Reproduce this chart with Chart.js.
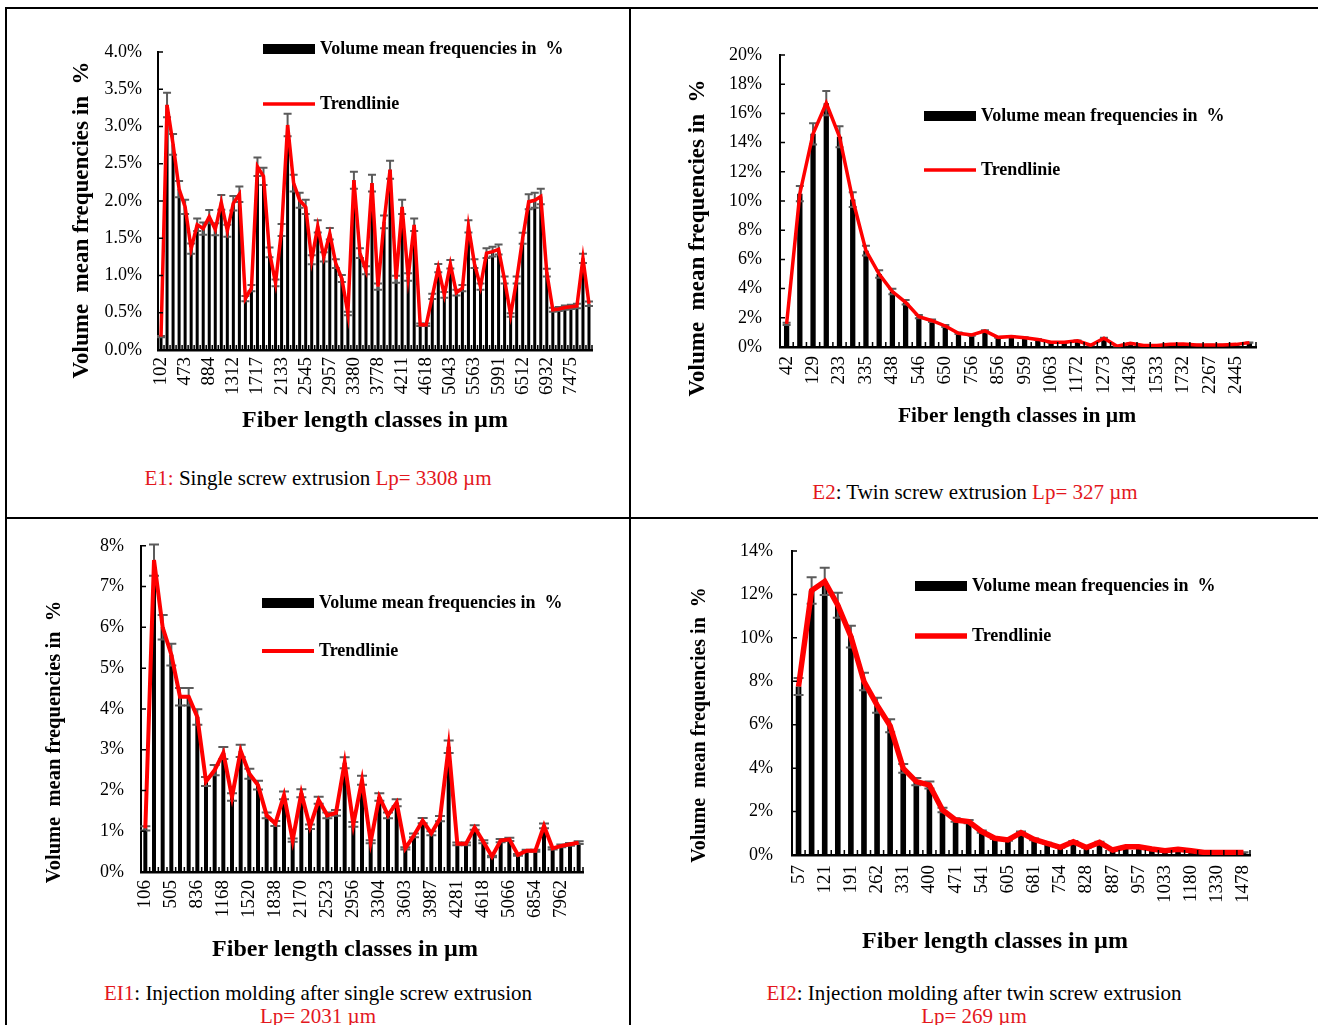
<!DOCTYPE html>
<html>
<head>
<meta charset="utf-8">
<script src="https://cdn.jsdelivr.net/npm/chart.js@4.4.1/dist/chart.umd.min.js"></script>
<style>
  html, body { margin: 0; padding: 0; background: #fff; }
  body { width: 1318px; height: 1025px; position: relative; overflow: hidden;
         font-family: "Liberation Serif", "Times New Roman", serif; }
  .box { position: absolute; }
  .rule { position: absolute; background: #000; }
  .cap { position: absolute; font-size: 21px; color: #000; white-space: nowrap;
         transform: translate(-50%, -50%); line-height: 23px; }
  .red { color: #e3171d; }
</style>
</head>
<body>

<div class="rule" style="left:5px;top:7px;width:1313px;height:2px"></div>
<div class="rule" style="left:5px;top:7px;width:2px;height:1018px"></div>
<div class="rule" style="left:629px;top:7px;width:2px;height:1018px"></div>
<div class="rule" style="left:5px;top:517px;width:1313px;height:2px"></div>

<div class="box" style="left:6px;top:8px"><canvas id="c1" width="624" height="440"></canvas></div>
<div class="box" style="left:630px;top:8px"><canvas id="c2" width="688" height="440"></canvas></div>
<div class="box" style="left:6px;top:518px"><canvas id="c3" width="624" height="460"></canvas></div>
<div class="box" style="left:630px;top:518px"><canvas id="c4" width="688" height="460"></canvas></div>

<div class="cap" style="left:318px;top:478px"><span class="red">E1:</span> Single screw extrusion <span class="red">Lp= 3308 µm</span></div>
<div class="cap" style="left:975px;top:492px"><span class="red">E2</span>: Twin screw extrusion <span class="red">Lp= 327 µm</span></div>
<div class="cap" style="left:318px;top:993px"><span class="red">EI1</span>: Injection molding after single screw extrusion</div>
<div class="cap red" style="left:318px;top:1016px">Lp= 2031 µm</div>
<div class="cap" style="left:974px;top:993px"><span class="red">EI2</span>: Injection molding after twin screw extrusion</div>
<div class="cap red" style="left:974px;top:1016px">Lp= 269 µm</div>

<script>
// E1: single screw extrusion (every 4th class is labelled)
const e1Ticks = ['102', '473', '884', '1312', '1717', '2133', '2545', '2957', '3380',
  '3778', '4211', '4618', '5043', '5563', '5991', '6512', '6932', '7475'];
const e1Values = [0.18, 3.29, 2.76, 2.16, 1.92, 1.36, 1.68, 1.63, 1.79, 1.62, 1.98, 1.60,
  1.97, 2.09, 0.69, 0.83, 2.46, 2.33, 1.31, 0.90, 1.61, 3.02, 2.24, 2.01, 1.92, 1.21,
  1.66, 1.25, 1.56, 1.16, 0.96, 0.49, 2.28, 1.30, 1.07, 2.24, 0.85, 1.72, 2.42, 0.95,
  1.92, 0.98, 1.68, 0.34, 0.34, 0.72, 1.10, 0.74, 1.15, 0.77, 0.83, 1.66, 1.16, 0.85,
  1.30, 1.32, 1.35, 0.94, 0.47, 0.94, 1.50, 1.99, 2.01, 2.06, 1.04, 0.54, 0.55, 0.57,
  0.58, 0.59, 1.23, 0.62];

// E2: twin screw extrusion (every 2nd class labelled)
const e2Ticks = ['42', '129', '233', '335', '438', '546', '650', '756', '856', '959',
  '1063', '1172', '1273', '1436', '1533', '1732', '2267', '2445'];
const e2Values = [1.58, 10.5, 14.6, 16.7, 14.4, 10.1, 6.6, 5.0, 3.8, 3.06, 2.08, 1.8,
  1.44, 0.94, 0.82, 1.1, 0.66, 0.72, 0.64, 0.52, 0.32, 0.32, 0.43, 0.12, 0.6, 0.05,
  0.25, 0.1, 0.1, 0.18, 0.2, 0.14, 0.14, 0.14, 0.18, 0.3];

// EI1: injection molding after single screw extrusion (every 3rd class labelled)
const e3Ticks = ['106', '505', '836', '1168', '1520', '1838', '2170', '2523', '2956',
  '3304', '3603', '3987', '4281', '4618', '5066', '6854', '7962'];
const e3Values = [1.07, 7.65, 6.0, 5.33, 4.3, 4.3, 3.8, 2.22, 2.5, 2.92, 1.84, 2.97,
  2.41, 2.13, 1.39, 1.19, 1.88, 0.78, 1.93, 1.11, 1.76, 1.39, 1.45, 2.68, 1.17, 2.25,
  0.74, 1.84, 1.39, 1.70, 0.58, 0.90, 1.26, 0.95, 1.31, 3.07, 0.69, 0.69, 1.09, 0.74,
  0.38, 0.77, 0.80, 0.42, 0.52, 0.52, 1.13, 0.58, 0.64, 0.68, 0.72];

// EI2: injection molding after twin screw extrusion (every 2nd class labelled)
const e4Ticks = ['57', '121', '191', '262', '331', '400', '471', '541', '605', '681',
  '754', '828', '887', '957', '1033', '1180', '1330', '1478'];
const e4Values = [7.76, 12.18, 12.6, 11.5, 10.06, 7.99, 6.9, 5.95, 3.99, 3.38, 3.22,
  2.07, 1.61, 1.54, 1.08, 0.77, 0.69, 1.03, 0.72, 0.54, 0.35, 0.61, 0.34, 0.58, 0.23,
  0.38, 0.38, 0.28, 0.2, 0.26, 0.2, 0.12, 0.12, 0.12, 0.12];

const errorShare = 0.05; // error bars are about +-5 % of each bar
const xTitleText = 'Fiber length classes in µm';
const yTitleText = 'Volume  mean frequencies in  %';
const barLabel = 'Volume mean frequencies in  %';
const lineLabel = 'Trendlinie';

const serif = '"Liberation Serif", "Times New Roman", serif';
Chart.defaults.font.family = serif;
Chart.defaults.color = '#000';

function categories(ticks, step, count) {
  const out = [];
  for (let i = 0; i < count; i++) {
    out.push(i % step === 0 && ticks[i / step] ? ticks[i / step] : '');
  }
  return out;
}

// error bars, inner tick marks, legend and axis titles
const extras = {
  id: 'extras',
  afterDatasetDraw(chart, args, o) {
    const ds = chart.data.datasets[args.index];
    if (ds.type !== 'bar') return;
    const y = chart.scales.y;
    const ctx = chart.ctx;
    ctx.save();
    ctx.strokeStyle = '#5b5b5b';
    ctx.lineWidth = 2;
    args.meta.data.forEach((bar, i) => {
      const v = ds.data[i];
      const hi = y.getPixelForValue(v * (1 + errorShare));
      const lo = y.getPixelForValue(v * (1 - errorShare));
      const h = o.capHalf;
      ctx.beginPath();
      ctx.moveTo(bar.x, hi); ctx.lineTo(bar.x, lo);
      ctx.moveTo(bar.x - h, hi); ctx.lineTo(bar.x + h, hi);
      ctx.moveTo(bar.x - h, lo); ctx.lineTo(bar.x + h, lo);
      ctx.stroke();
    });
    ctx.restore();
  },
  afterDraw(chart, args, o) {
    const ctx = chart.ctx;
    const area = chart.chartArea;
    const x = chart.scales.x, y = chart.scales.y;
    ctx.save();
    ctx.strokeStyle = '#000';
    ctx.lineWidth = 1.5;
    ctx.beginPath();
    y.ticks.forEach(t => {
      const py = y.getPixelForValue(t.value);
      ctx.moveTo(area.left, py); ctx.lineTo(area.left + 5, py);
    });
    const n = chart.data.labels.length;
    for (let i = 0; i <= n; i++) {
      const px = i === 0 ? area.left : (i === n ? area.right :
        (x.getPixelForValue(i - 1) + x.getPixelForValue(i)) / 2);
      ctx.moveTo(px, area.bottom); ctx.lineTo(px, area.bottom - 5);
    }
    ctx.stroke();

    // legend
    const bar = chart.data.datasets.find(d => d.type === 'bar');
    const line = chart.data.datasets.find(d => d.type === 'line');
    ctx.font = 'bold 18px ' + serif;
    ctx.textBaseline = 'middle';
    ctx.textAlign = 'left';
    ctx.fillStyle = '#000';
    ctx.fillRect(o.legX, o.legY1 - 5, 52, 10);
    ctx.fillText(bar.label, o.legX + 57, o.legY1);
    ctx.strokeStyle = line.borderColor;
    ctx.lineWidth = line.borderWidth;
    ctx.beginPath();
    ctx.moveTo(o.legX, o.legY2); ctx.lineTo(o.legX + 52, o.legY2);
    ctx.stroke();
    ctx.fillStyle = '#000';
    ctx.fillText(line.label, o.legX + 57, o.legY2);

    // axis titles
    ctx.textAlign = 'center';
    ctx.font = 'bold ' + o.xSize + 'px ' + serif;
    ctx.fillText(xTitleText, o.xTx, o.xTy);
    ctx.translate(o.yTx, o.yTy);
    ctx.rotate(-Math.PI / 2);
    ctx.font = 'bold ' + o.ySize + 'px ' + serif;
    ctx.fillText(yTitleText, 0, 0);
    ctx.restore();
  }
};

function makeChart(id, values, ticks, step, cfg) {
  return new Chart(document.getElementById(id), {
    type: 'bar',
    data: {
      labels: categories(ticks, step, values.length),
      datasets: [
        {
          type: 'line', label: lineLabel, data: values, borderColor: '#ff0000',
          borderWidth: cfg.lineWidth, pointRadius: 0, tension: 0, order: 0
        },
        {
          type: 'bar', label: barLabel, data: values, backgroundColor: '#000',
          barPercentage: cfg.barPct, categoryPercentage: 1, order: 1
        }
      ]
    },
    options: {
      responsive: false,
      animation: false,
      layout: { padding: { top: cfg.top, right: cfg.right, left: 0, bottom: 0 } },
      plugins: { legend: { display: false }, tooltip: { enabled: false }, extras: cfg },
      scales: {
        x: {
          grid: { display: false, drawTicks: false },
          border: { color: '#000', width: 2.5 },
          ticks: {
            autoSkip: false, minRotation: 90, maxRotation: 90,
            padding: cfg.xPad, font: { size: 19 }
          },
          afterFit: s => { s.height = cfg.xH; }
        },
        y: {
          min: 0, max: cfg.max,
          grid: { display: false, drawTicks: false },
          border: { color: '#000', width: 2 },
          ticks: { stepSize: cfg.step, padding: cfg.yPad, font: { size: 18 }, callback: cfg.fmt },
          afterFit: s => { s.width = cfg.yW; }
        }
      }
    },
    plugins: [extras]
  });
}

makeChart('c1', e1Values, e1Ticks, 4, {
  top: 44, right: 38, yW: 152, xH: 98, xPad: 7, yPad: 16,
  max: 4, step: 0.5, fmt: v => v.toFixed(1) + '%',
  barPct: 0.5, lineWidth: 3.5, capHalf: 4,
  legX: 257, legY1: 41, legY2: 96,
  xTx: 369, xTy: 413, xSize: 24, yTx: 76, yTy: 212, ySize: 23
});
makeChart('c2', e2Values, e2Ticks, 2, {
  top: 47, right: 62, yW: 150, xH: 101, xPad: 9, yPad: 18,
  max: 20, step: 2, fmt: v => v + '%',
  barPct: 0.4, lineWidth: 3.5, capHalf: 4,
  legX: 294, legY1: 108, legY2: 162,
  xTx: 387, xTy: 408, xSize: 21.5, yTx: 68, yTy: 230, ySize: 23
});
makeChart('c3', e3Values, e3Ticks, 3, {
  top: 27, right: 47, yW: 135, xH: 106, xPad: 8, yPad: 17,
  max: 8, step: 1, fmt: v => v + '%',
  barPct: 0.46, lineWidth: 4, capHalf: 5,
  legX: 256, legY1: 85, legY2: 133,
  xTx: 339, xTy: 432, xSize: 24, yTx: 49, yTy: 224, ySize: 20.5
});
makeChart('c4', e4Values, e4Ticks, 2, {
  top: 33, right: 68, yW: 162, xH: 123, xPad: 10, yPad: 19,
  max: 14, step: 2, fmt: v => v + '%',
  barPct: 0.43, lineWidth: 5.5, capHalf: 5,
  legX: 285, legY1: 68, legY2: 118,
  xTx: 365, xTy: 424, xSize: 24, yTx: 70, yTy: 207, ySize: 20
});
</script>
</body>
</html>
